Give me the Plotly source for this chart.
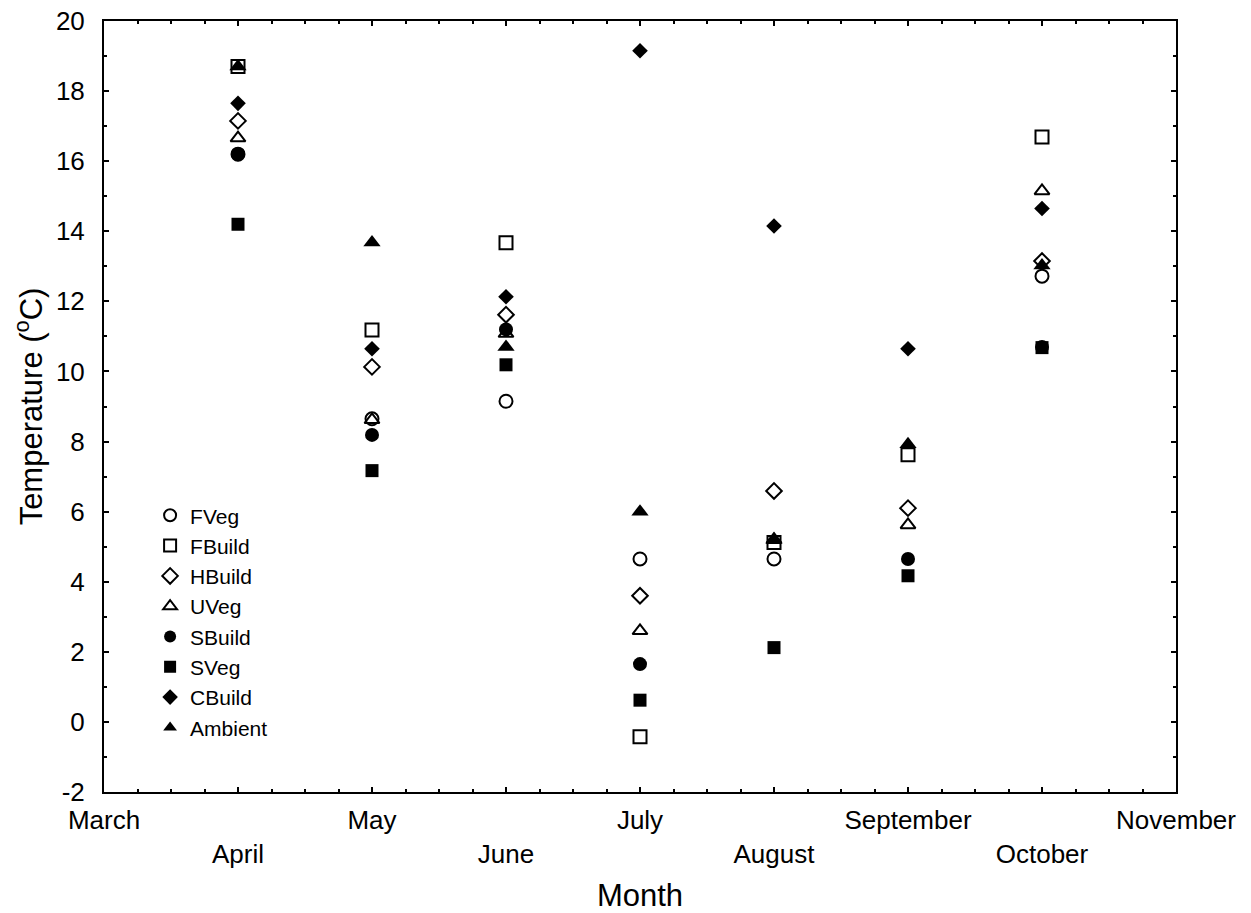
import plotly.graph_objects as go

# Axis categories (month ticks)
tick_months = ["March", "April", "May", "June", "July", "August", "September", "October", "November"]
tick_labels = ["March", "<br>April", "May", "<br>June", "July", "<br>August", "September", "<br>October", "November"]

# Y ticks
y_ticks = [-2, 0, 2, 4, 6, 8, 10, 12, 14, 16, 18, 20]
y_tick_labels = ["-2", "0", "2", "4", "6", "8", "10", "12", "14", "16", "18", "20"]

# Months at which measurements exist
data_months = ["April", "May", "June", "July", "August", "September", "October"]

# Temperature (°C) series, one value per data month
FVeg    = [16.2, 8.65, 9.15, 4.65, 4.65, None, 12.72]
FBuild  = [18.7, 11.18, 13.67, -0.42, 5.12, 7.62, 16.69]
HBuild  = [17.15, 10.13, 11.62, 3.6, 6.59, 6.1, 13.15]
UVeg    = [16.66, 8.62, 11.08, 2.6, 5.2, 5.62, 15.15]
SBuild  = [16.2, 8.19, 11.2, 1.65, None, 4.65, 10.7]
SVeg    = [14.2, 7.17, 10.19, 0.62, 2.12, 4.17, 10.68]
CBuild  = [17.65, 10.65, 12.13, 19.15, 14.15, 10.65, 14.65]
Ambient = [18.7, 13.68, 10.7, 6.0, 5.2, 7.92, 13.02]

series = [
    ("FVeg", FVeg, "circle-open"),
    ("FBuild", FBuild, "square-open"),
    ("HBuild", HBuild, "diamond-open"),
    ("UVeg", UVeg, "triangle-up-open"),
    ("SBuild", SBuild, "circle"),
    ("SVeg", SVeg, "square"),
    ("CBuild", CBuild, "diamond"),
    ("Ambient", Ambient, "triangle-up"),
]

xpos = [tick_months.index(m) for m in data_months]
FONT = "Liberation Sans, Arial, sans-serif"

fig = go.Figure()
for name, vals, sym in series:
    size = 13
    if "diamond" in sym:
        size = 12
    if sym == "triangle-up":
        size = 15
    if sym == "triangle-up-open":
        size = 13
    if sym == "circle":
        size = 14
    fig.add_trace(go.Scatter(
        x=xpos, y=vals, mode="markers", name=name,
        marker=dict(symbol=sym, size=size, color="black",
                    line=dict(color="black", width=2 if "open" in sym else 0)),
    ))

axis_common = dict(
    showline=True, linecolor="black", linewidth=2, mirror="ticks",
    ticks="inside", ticklen=5, tickwidth=1.5, tickcolor="black",
    showgrid=False, zeroline=False, automargin=False,
    tickfont=dict(family=FONT, size=26, color="black"),
)

fig.update_xaxes(
    range=[0, len(tick_months) - 1],
    tickmode="array", tickvals=list(range(len(tick_months))), ticktext=tick_labels,
    ticklabelstandoff=4,
    minor=dict(ticks="inside", ticklen=3, tickcolor="black", dtick=0.25, tick0=0, showgrid=False),
    title=dict(text="Month", font=dict(family=FONT, size=31, color="black"), standoff=21),
    **axis_common,
)
fig.update_yaxes(
    range=[-2, 20], tickmode="array", tickvals=y_ticks, ticktext=y_tick_labels,
    ticklabelstandoff=12,
    minor=dict(ticks="inside", ticklen=3, tickcolor="black", dtick=1, tick0=0, showgrid=False),
    title=dict(text="Temperature (<sup>o</sup>C)", font=dict(family=FONT, size=31, color="black"), standoff=4),
    **axis_common,
)

fig.update_layout(
    width=1251, height=913,
    margin=dict(l=104, r=75, t=21, b=121),
    plot_bgcolor="white", paper_bgcolor="white",
    font=dict(family=FONT, color="black"),
    legend=dict(x=0.043, y=0.385, xanchor="left", yanchor="top",
                bgcolor="rgba(0,0,0,0)", font=dict(family=FONT, size=21, color="black"),
                tracegroupgap=0, itemsizing="constant"),
    showlegend=True,
)

fig.write_html("out.html")
